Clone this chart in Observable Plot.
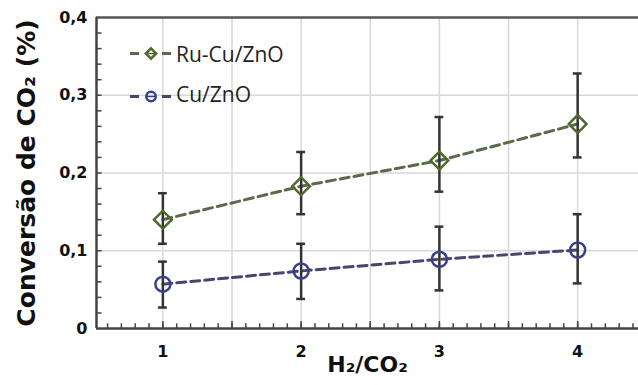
<!DOCTYPE html>
<html>
<head>
<meta charset="utf-8">
<script src="https://cdn.jsdelivr.net/npm/d3@7"></script>
<script src="https://cdn.jsdelivr.net/npm/@observablehq/plot@0.6"></script>
<style>
  html, body { margin: 0; padding: 0; background: #fff; overflow: hidden; }
</style>
</head>
<body>
<div id="chart"></div>
<script>
// ---- data ----
const xValues   = [1, 2, 3, 4];
const seriesNames = ["Ru-Cu/ZnO", "Cu/ZnO"];
const ruValues  = [0.140, 0.183, 0.216, 0.263];
const ruLow     = [0.109, 0.147, 0.176, 0.220];
const ruHigh    = [0.174, 0.227, 0.272, 0.328];
const cuValues  = [0.057, 0.074, 0.089, 0.101];
const cuLow     = [0.027, 0.038, 0.049, 0.058];
const cuHigh    = [0.086, 0.109, 0.131, 0.147];
const xTickValues = [1, 2, 3, 4];
const yTickValues = [0, 0.1, 0.2, 0.3, 0.4];
const xGridValues = [1, 1.5, 2, 2.5, 3, 3.5, 4];
const yGridValues = [0.1, 0.2, 0.3];
const xLabel = "H₂/CO₂";
const yLabel = "Conversão de CO₂ (%)";

// ---- styles ----
const green = "#4f6a2c", greenLine = "#5b6a49";
const blue = "#3c408a", blueLine = "#45476f";
const xMin = 0.52, xMax = 4.44;

const ruRows = xValues.map((x, i) => ({x, y: ruValues[i], low: ruLow[i], high: ruHigh[i]}));
const cuRows = xValues.map((x, i) => ({x, y: cuValues[i], low: cuLow[i], high: cuHigh[i]}));
const allRows = ruRows.concat(cuRows);

const xMinor = d3.range(6, 45).map(d => d / 10).filter(d => d > xMin && d < xMax);
const xMajorTicks = xMinor.filter(d => Math.abs(d * 2 - Math.round(d * 2)) < 1e-9);
const yMinor = d3.range(1, 20).map(d => d / 50);

const fmt = d => d === 0 ? "0" : d.toFixed(1).replace(".", ",");

const chart = Plot.plot({
  width: 638, height: 385,
  marginLeft: 96, marginRight: 0, marginTop: 17, marginBottom: 57,
  x: {domain: [xMin, xMax]},
  y: {domain: [0, 0.4]},
  style: {fontFamily: "DejaVu Sans", background: "#fff", color: "#111"},
  marks: [
    Plot.gridX(xGridValues, {stroke: "#d8d8d8", strokeOpacity: 1, strokeWidth: 1.5}),
    Plot.gridY(yGridValues, {stroke: "#d8d8d8", strokeOpacity: 1, strokeWidth: 1.5}),
    // minor ticks (inside)
    Plot.ruleX(xMinor, {y1: 0, y2: 0.006, stroke: "#444", strokeWidth: 1.5}),
    Plot.ruleX(xMajorTicks, {y1: 0, y2: 0.009, stroke: "#444", strokeWidth: 1.5}),
    Plot.ruleY(yMinor, {x1: xMin, x2: xMin + 0.04, stroke: "#444", strokeWidth: 1.5}),
    // frame lines
    Plot.ruleY([0.4], {stroke: "#555", strokeWidth: 2.5}),
    Plot.ruleY([0], {stroke: "#444", strokeWidth: 2.5}),
    Plot.ruleX([xMin], {stroke: "#444", strokeWidth: 2.5}),
    // axes
    Plot.axisX({ticks: xTickValues, tickSize: 0, tickPadding: 17, fontSize: 16, fontWeight: "bold", label: null, tickFormat: d => String(d)}),
    Plot.axisY({ticks: yTickValues, tickSize: 0, tickPadding: 9, fontSize: 16, fontWeight: "bold", label: null, tickFormat: fmt}),
    // series lines
    Plot.line(ruRows, {x: "x", y: "y", stroke: greenLine, strokeWidth: 3, strokeDasharray: "9,5"}),
    Plot.line(cuRows, {x: "x", y: "y", stroke: blueLine, strokeWidth: 3, strokeDasharray: "9,5"}),
    // error bars
    Plot.ruleX(allRows, {x: "x", y1: "low", y2: "high", stroke: "#333", strokeWidth: 2.5}),
    Plot.ruleY(allRows, {y: "high", x1: d => d.x - 0.032, x2: d => d.x + 0.032, stroke: "#333", strokeWidth: 2.5}),
    Plot.ruleY(allRows, {y: "low", x1: d => d.x - 0.032, x2: d => d.x + 0.032, stroke: "#333", strokeWidth: 2.5}),
    // markers
    Plot.dot(ruRows, {x: "x", y: "y", symbol: "diamond2", r: 8, stroke: green, strokeWidth: 2.5, fill: "none"}),
    Plot.dot(cuRows, {x: "x", y: "y", symbol: "circle", r: 7.5, stroke: blue, strokeWidth: 2.5, fill: "none"}),
    // axis titles
    Plot.text([yLabel], {frameAnchor: "left", textAnchor: "middle", rotate: -90, dx: -70, fontSize: 25, fontWeight: "bold", fill: "#111"}),
    Plot.text([xLabel], {frameAnchor: "bottom", textAnchor: "middle", dy: 43, fontSize: 22, fontWeight: "bold", fill: "#111"})
  ]
});

document.getElementById("chart").appendChild(chart);

// ---- legend (inside plot, top-left) ----
const svg = d3.select(chart);
const leg = svg.append("g").attr("class", "legend").attr("text-anchor", "start");
const legendItems = [
  {name: seriesNames[0], color: green, line: greenLine, symbol: d3.symbolDiamond2, size: 70, cy: 53.5, ty: 62},
  {name: seriesNames[1], color: blue, line: blueLine, symbol: d3.symbolCircle, size: 70, cy: 96.5, ty: 101.5}
];
for (const it of legendItems) {
  leg.append("line").attr("x1", 130).attr("x2", 139).attr("y1", it.cy).attr("y2", it.cy)
    .attr("stroke", it.line).attr("stroke-width", 3);
  leg.append("line").attr("x1", 162).attr("x2", 171).attr("y1", it.cy).attr("y2", it.cy)
    .attr("stroke", it.line).attr("stroke-width", 3);
  leg.append("path").attr("d", d3.symbol(it.symbol, it.size)())
    .attr("transform", `translate(151,${it.cy})`)
    .attr("fill", "none").attr("stroke", it.color).attr("stroke-width", 2.5);
  leg.append("line").attr("x1", 147).attr("x2", 155).attr("y1", it.cy).attr("y2", it.cy)
    .attr("stroke", it.color).attr("stroke-width", 1.5);
  leg.append("text").attr("x", 176).attr("y", it.ty).attr("text-anchor", "start").text(it.name)
    .attr("font-family", "Open Sans").attr("font-size", 21).attr("fill", "#222");
}
</script>
</body>
</html>
